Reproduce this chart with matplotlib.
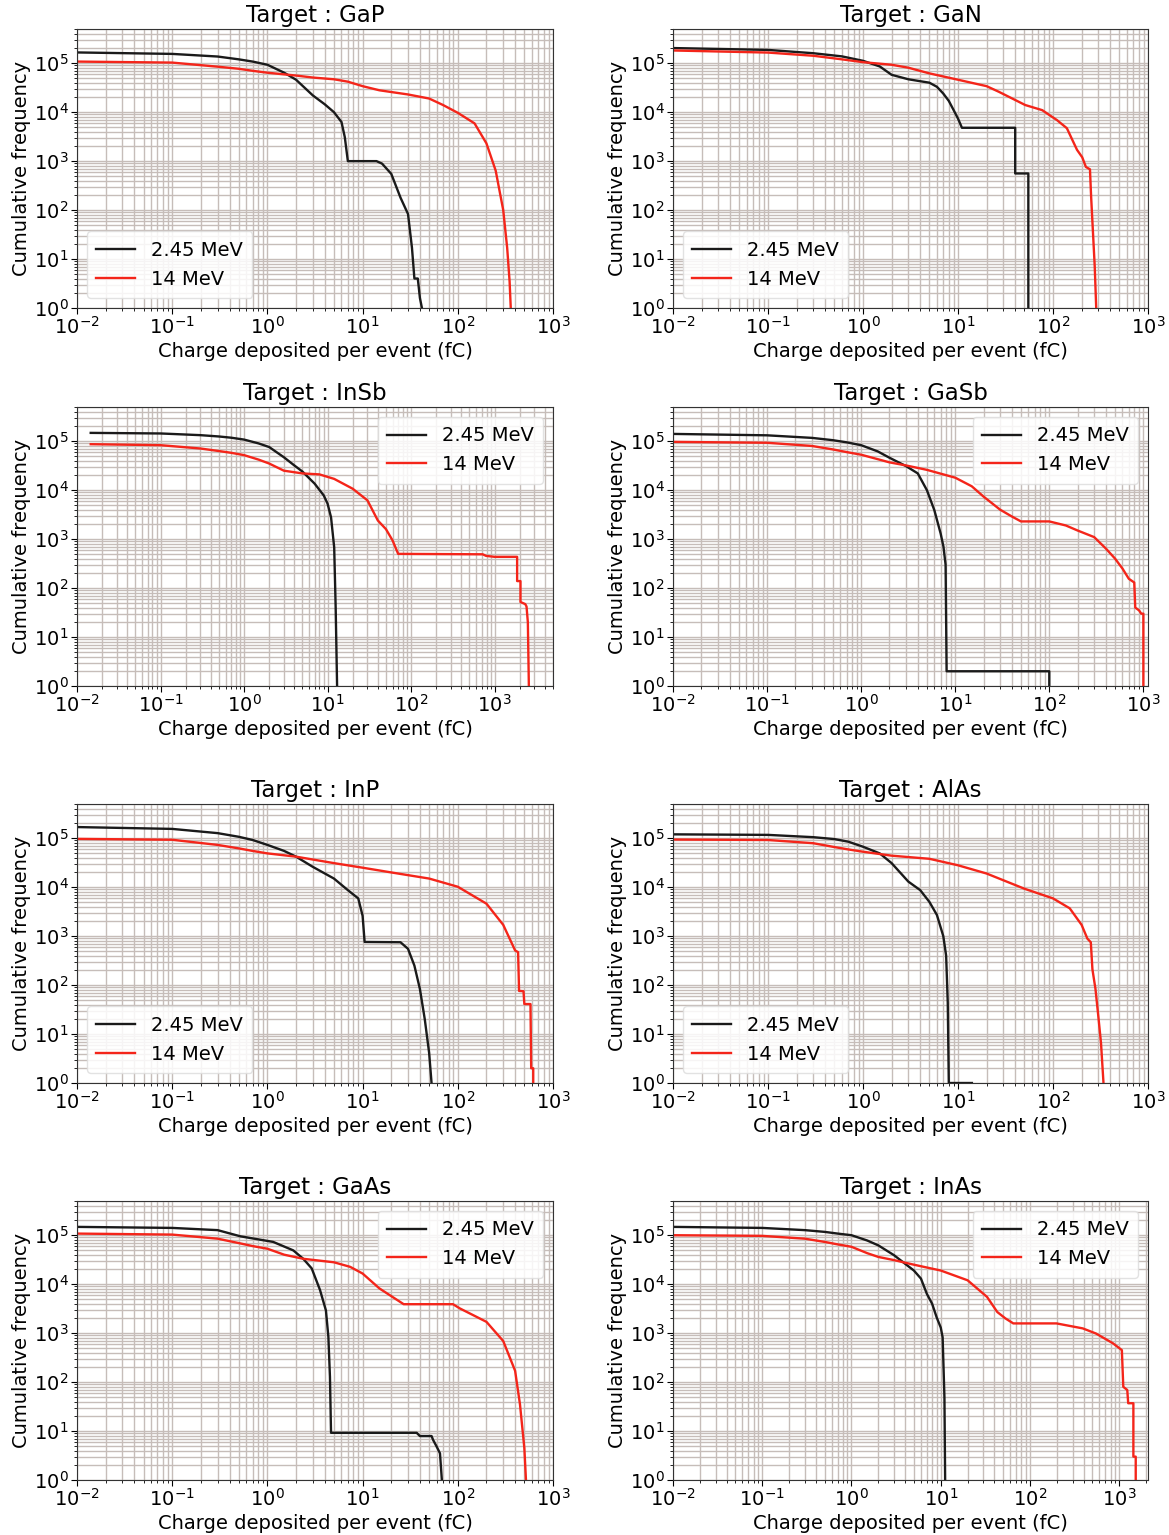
import matplotlib
matplotlib.use("Agg")
import matplotlib.pyplot as plt

# ---------------- data ----------------
targets = ["GaP", "GaN", "InSb", "GaSb", "InP", "AlAs", "GaAs", "InAs"]
labels = ["2.45 MeV", "14 MeV"]

gap_x_245 = [0.01, 0.1, 0.3, 0.5, 0.7, 1, 1.5, 2, 3, 4, 5, 6, 6.5, 7, 14, 16, 20, 25, 30, 33, 35, 38, 40, 42]
gap_y_245 = [1.66e5, 1.55e5, 1.37e5, 1.2e5, 1.08e5, 9.3e4, 6.4e4, 4.6e4, 2.2e4, 1.45e4, 1.0e4, 6.3e3, 3.1e3, 1.0e3, 1.0e3, 890, 550, 180, 83, 17, 4, 4, 1.6, 1]
gap_x_14 = [0.01, 0.1, 0.3, 0.5, 0.7, 1, 2, 3, 5, 7, 10, 15, 30, 50, 70, 100, 150, 200, 250, 300, 330, 350, 360]
gap_y_14 = [1.08e5, 1.03e5, 8.5e4, 7.7e4, 7.0e4, 6.4e4, 5.6e4, 5.1e4, 4.7e4, 4.2e4, 3.4e4, 2.8e4, 2.3e4, 1.9e4, 1.4e4, 9.7e3, 5.9e3, 2.3e3, 640, 100, 17, 3.5, 1]

gan_x_245 = [0.01, 0.1, 0.3, 0.6, 1, 1.5, 2, 3, 5, 6, 7, 8, 9, 10, 11, 40, 40, 55, 55]
gan_y_245 = [2.04e5, 1.87e5, 1.6e5, 1.38e5, 1.12e5, 8.6e4, 5.8e4, 4.7e4, 4.0e4, 3.3e4, 2.4e4, 1.7e4, 1.1e4, 7.4e3, 4.8e3, 4.8e3, 560, 560, 1]
gan_x_14 = [0.01, 0.1, 0.3, 0.6, 1, 2, 3, 5, 10, 20, 27, 51, 77, 98, 110, 140, 160, 179, 203, 222, 245, 252, 275, 285]
gan_y_14 = [1.82e5, 1.65e5, 1.42e5, 1.2e5, 1.05e5, 9.3e4, 8.1e4, 6.2e4, 4.6e4, 3.4e4, 2.6e4, 1.4e4, 1.1e4, 8e3, 6.9e3, 4.7e3, 2.7e3, 1.7e3, 1.2e3, 760, 680, 186, 7, 1]

insb_x_245 = [0.0146, 0.1, 0.3, 0.5, 0.7, 1, 1.5, 2, 3, 4, 5, 7, 9, 10, 11, 12, 12.5, 13]
insb_y_245 = [1.48e5, 1.44e5, 1.33e5, 1.25e5, 1.18e5, 1.08e5, 9.0e4, 7.6e4, 4.7e4, 3.2e4, 2.4e4, 1.36e4, 7.8e3, 5.3e3, 2.8e3, 680, 40, 1]
insb_x_14 = [0.0146, 0.1, 0.3, 0.5, 0.7, 1, 1.5, 2, 3, 5, 8, 12, 20, 30, 40, 50, 60, 70, 720, 790, 1000, 1860, 1860, 2040, 2040, 2330, 2410, 2500, 2570]
insb_y_14 = [8.7e4, 8.3e4, 7.1e4, 6.3e4, 5.8e4, 5.2e4, 4.2e4, 3.5e4, 2.5e4, 2.2e4, 2.1e4, 1.7e4, 1.07e4, 6.2e3, 2.4e3, 1.6e3, 940, 500, 490, 455, 435, 435, 139, 139, 52, 47, 42, 20, 1]

gasb_x_245 = [0.01, 0.1, 0.3, 0.5, 0.7, 1, 1.5, 2, 3, 4, 5, 6, 7, 7.5, 7.9, 8.1, 100, 100]
gasb_y_245 = [1.41e5, 1.32e5, 1.17e5, 1.05e5, 9.5e4, 8.3e4, 6.2e4, 4.6e4, 3.1e4, 2.2e4, 1.0e4, 3.9e3, 1.3e3, 700, 300, 2, 2, 1]
gasb_x_14 = [0.01, 0.1, 0.3, 0.5, 0.7, 1, 1.5, 2, 3, 5, 10, 15, 20, 30, 40, 50, 100, 150, 200, 300, 400, 500, 600, 700, 800, 820, 900, 950, 1000, 1000]
gasb_y_14 = [9.7e4, 9.3e4, 8e4, 6.8e4, 6.0e4, 5.3e4, 4.3e4, 3.7e4, 3.2e4, 2.6e4, 1.8e4, 1.2e4, 7.4e3, 4e3, 2.9e3, 2.3e3, 2.3e3, 1.9e3, 1.5e3, 1.1e3, 640, 400, 250, 155, 130, 40, 35, 30, 30, 1]

inp_x_245 = [0.01, 0.1, 0.3, 0.5, 0.7, 1, 1.5, 2, 3, 5, 7, 9, 10, 10.5, 25, 30, 35, 40, 45, 50, 53]
inp_y_245 = [1.69e5, 1.55e5, 1.27e5, 1.07e5, 9.2e4, 7.3e4, 5.5e4, 4.2e4, 2.6e4, 1.5e4, 8.7e3, 5.9e3, 2.6e3, 760, 750, 550, 250, 83, 20, 4.1, 1]
inp_x_14 = [0.01, 0.1, 0.3, 0.5, 0.7, 1, 2, 5, 10, 20, 50, 100, 200, 300, 400, 430, 440, 490, 500, 580, 590, 620, 620]
inp_y_14 = [9.7e4, 9.3e4, 7.3e4, 6.2e4, 5.5e4, 4.9e4, 4.2e4, 3.1e4, 2.5e4, 2e4, 1.5e4, 1.02e4, 4.6e3, 1.7e3, 510, 470, 76, 75, 41, 41, 2, 2, 1]

alas_x_245 = [0.01, 0.1, 0.3, 0.5, 0.7, 1, 1.5, 2, 3, 4, 5, 6, 7, 7.5, 7.8, 8, 14]
alas_y_245 = [1.2e5, 1.17e5, 1.05e5, 9.6e4, 8.5e4, 6.7e4, 4.9e4, 3.1e4, 1.3e4, 8.7e3, 5e3, 2.7e3, 1e3, 400, 44, 1, 1]
alas_x_14 = [0.01, 0.1, 0.3, 0.5, 0.7, 1, 2, 5, 10, 20, 50, 100, 150, 200, 230, 250, 260, 280, 300, 320, 340]
alas_y_14 = [9.4e4, 9.2e4, 7.9e4, 6.6e4, 5.9e4, 5.3e4, 4.4e4, 3.8e4, 2.8e4, 1.9e4, 9.3e3, 5.9e3, 3.7e3, 1.7e3, 890, 750, 210, 83, 23, 6.6, 1]

gaas_x_245 = [0.01, 0.1, 0.3, 0.52, 1.15, 1.87, 2.38, 2.92, 3.57, 4.12, 4.37, 4.54, 4.66, 37, 40, 53, 55, 60, 65, 68]
gaas_y_245 = [1.48e5, 1.41e5, 1.27e5, 9.5e4, 7.3e4, 4.9e4, 3.3e4, 2.1e4, 7.6e3, 2.9e3, 840, 128, 9.2, 9.2, 7.9, 7.9, 6.6, 4.8, 3.5, 1]
gaas_x_14 = [0.01, 0.1, 0.3, 0.52, 0.7, 1, 1.5, 2.38, 5, 7.4, 10, 15, 27, 89, 105, 200, 300, 400, 450, 500, 520]
gaas_y_14 = [1.08e5, 1.03e5, 8.5e4, 6.8e4, 6.0e4, 5.3e4, 4.0e4, 3.3e4, 2.8e4, 2.26e4, 1.65e4, 8.2e3, 3.9e3, 3.9e3, 3.2e3, 1.7e3, 690, 170, 35, 4.5, 1]

inas_x_245 = [0.01, 0.1, 0.3, 0.5, 0.7, 1, 1.5, 2, 3, 4, 5, 6, 7, 8, 9, 10, 10.5, 11, 11.2]
inas_y_245 = [1.48e5, 1.41e5, 1.27e5, 1.17e5, 1.08e5, 1e5, 7.8e4, 6.2e4, 3.9e4, 2.6e4, 1.9e4, 1.3e4, 6.3e3, 4e3, 2.1e3, 1.3e3, 820, 48, 1]
inas_x_14 = [0.01, 0.1, 0.3, 0.5, 0.7, 1, 1.5, 2, 3, 5, 10, 20, 33, 43, 53, 65, 198, 390, 550, 850, 1070, 1110, 1230, 1260, 1440, 1440, 1530, 1530]
inas_y_14 = [1e5, 9.7e4, 8.5e4, 7.3e4, 6.5e4, 5.8e4, 4.3e4, 3.6e4, 3.1e4, 2.5e4, 1.9e4, 1.2e4, 5.5e3, 2.7e3, 2e3, 1.58e3, 1.58e3, 1.25e3, 980, 620, 450, 80, 69, 37, 37, 3, 3, 1]

xmax = [1e3, 1e3, 5e3, 1.12e3, 1e3, 1e3, 1e3, 2.1e3]
legend_loc = ["lower left", "lower left", "upper right", "upper right",
              "lower left", "lower left", "upper right", "upper right"]

series = [
    (gap_x_245, gap_y_245, gap_x_14, gap_y_14),
    (gan_x_245, gan_y_245, gan_x_14, gan_y_14),
    (insb_x_245, insb_y_245, insb_x_14, insb_y_14),
    (gasb_x_245, gasb_y_245, gasb_x_14, gasb_y_14),
    (inp_x_245, inp_y_245, inp_x_14, inp_y_14),
    (alas_x_245, alas_y_245, alas_x_14, alas_y_14),
    (gaas_x_245, gaas_y_245, gaas_x_14, gaas_y_14),
    (inas_x_245, inas_y_245, inas_x_14, inas_y_14),
]

# ---------------- figure ----------------
plt.rcParams['font.family'] = ['DejaVu Sans']
fig = plt.figure(figsize=(11.69, 15.35), dpi=100)

W, H = 1169, 1535
col_left = [77, 673]
col_w = [476, 475]
row_bottom = [308, 686, 1083, 1480]
ax_h = 279

grid_col = '#c6bdb9'
black = '#1a1a1a'
red = '#f4251a'

for i, name in enumerate(targets):
    r, c = divmod(i, 2)
    rect = [col_left[c] / W, 1 - row_bottom[r] / H, col_w[c] / W, ax_h / H]
    ax = fig.add_axes(rect)
    x1, y1, x2, y2 = series[i]
    ax.plot(x1, y1, color=black, lw=1.7, label=labels[0])
    ax.plot(x2, y2, color=red, lw=1.7, label=labels[1])
    ax.set_xscale('log')
    ax.set_yscale('log')
    ax.set_xlim(1e-2, xmax[i])
    ax.set_ylim(1, 5e5)
    ax.grid(True, which='both', color=grid_col, lw=1.0)
    ax.set_axisbelow(True)
    ax.set_title(f"Target : {name}", fontsize=16.5, pad=5)
    ax.set_xlabel("Charge deposited per event (fC)", fontsize=14, labelpad=3)
    ax.set_ylabel("Cumulative frequency", fontsize=14, labelpad=2)
    ax.tick_params(axis='both', which='major', labelsize=14, length=4, pad=2)
    ax.tick_params(axis='both', which='minor', length=2)
    for s in ax.spines.values():
        s.set_color('#333333')
    leg = ax.legend(loc=legend_loc[i], fontsize=14, framealpha=0.85,
                    handlelength=2.0, borderpad=0.5)
    leg.get_frame().set_edgecolor('#dddddd')

fig.savefig("out.png", dpi=100)
